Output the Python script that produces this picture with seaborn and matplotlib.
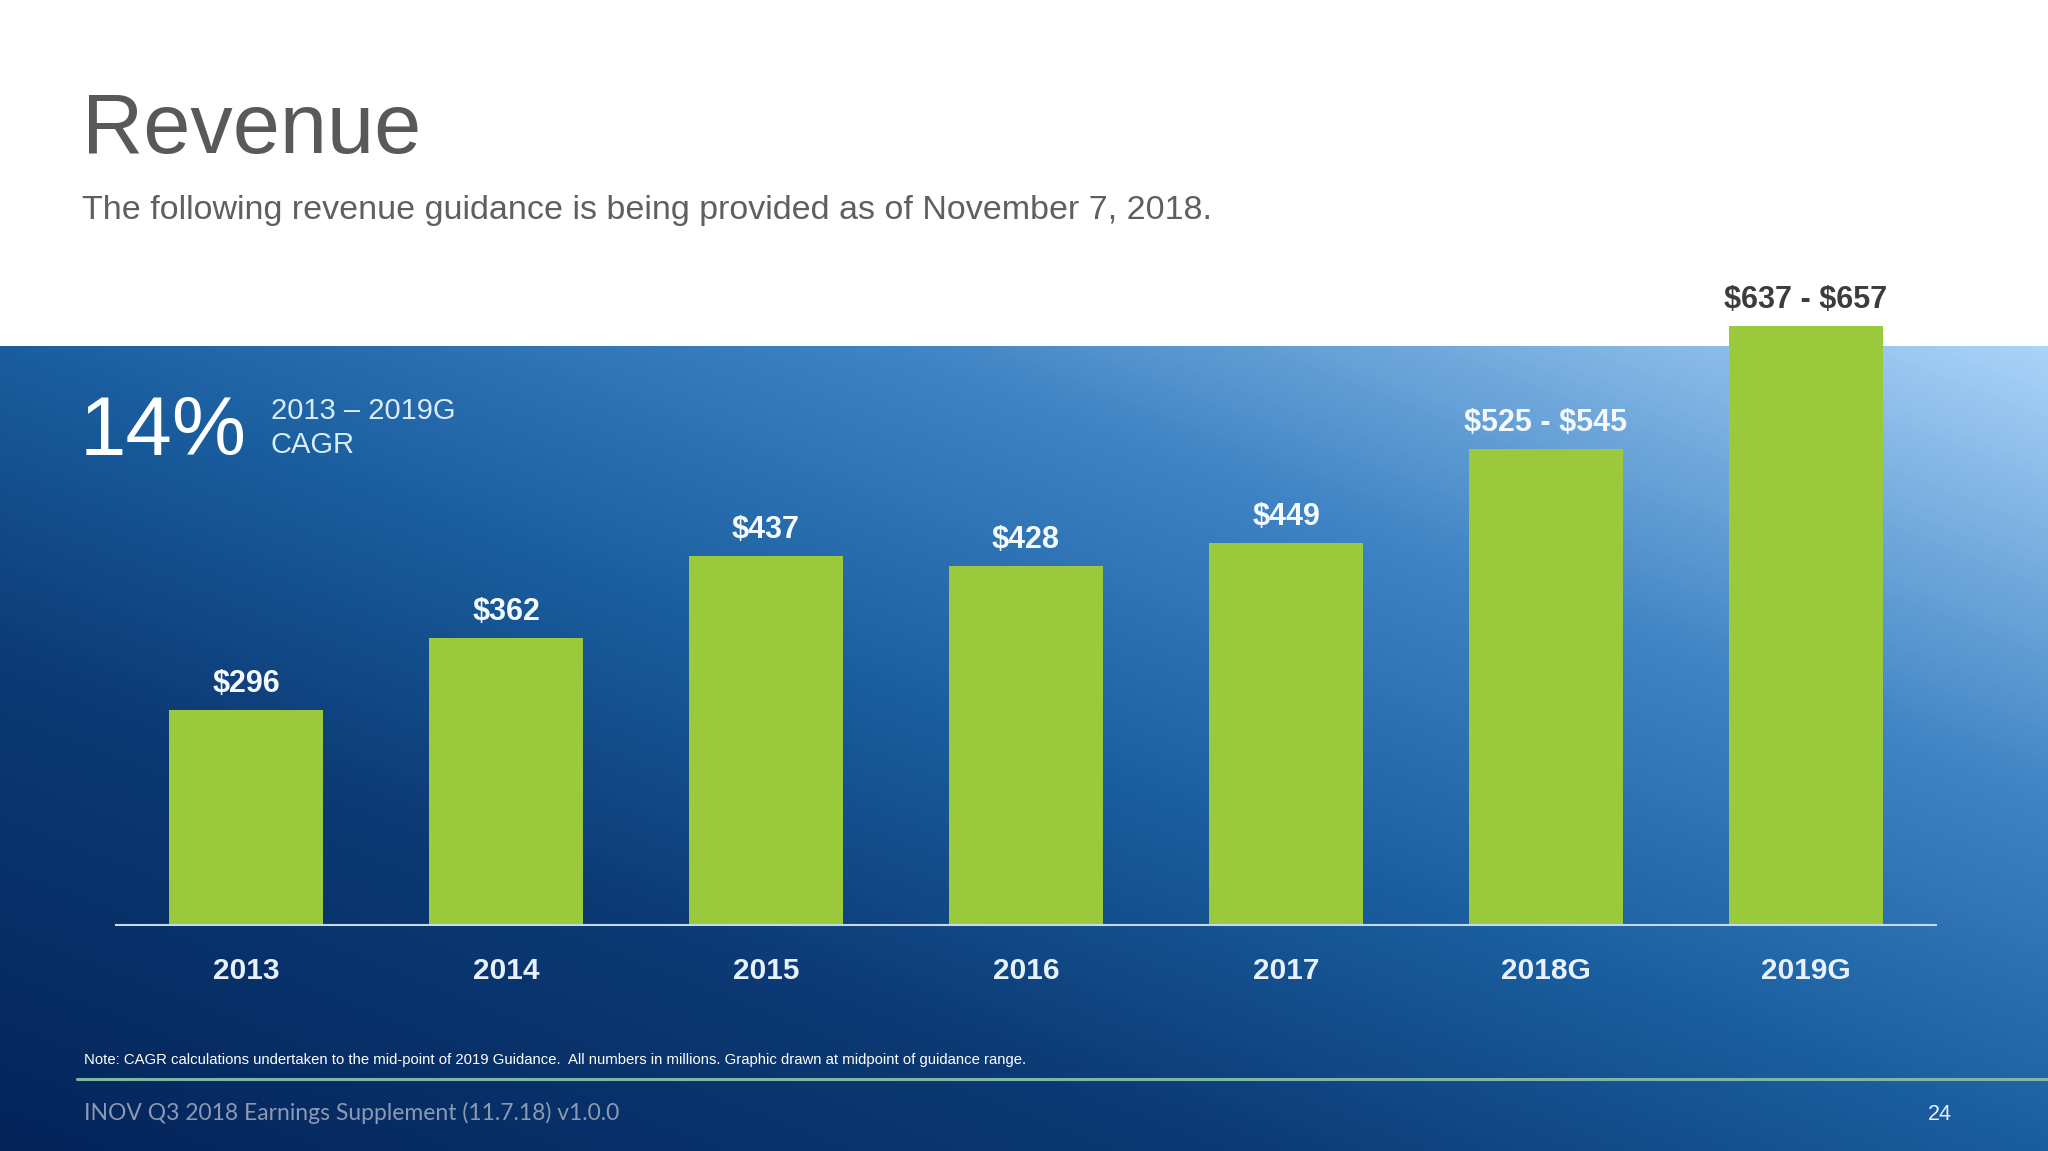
import numpy as np
import pandas as pd
import seaborn as sns
import matplotlib.pyplot as plt
from matplotlib.colors import LinearSegmentedColormap
from matplotlib.lines import Line2D

# data (millions of $)
years = ['2013', '2014', '2015', '2016', '2017', '2018G', '2019G']
revenue_low = [296, 362, 437, 428, 449, 525, 637]
revenue_high = [296, 362, 437, 428, 449, 545, 657]

df = pd.DataFrame({'year': years, 'low': revenue_low, 'high': revenue_high})
# bars drawn at the midpoint of the guidance range
df['mid'] = (df['low'] + df['high']) / 2
df['label'] = ['\\$%d' % l if l == h else '\\$%d - \\$%d' % (l, h) for l, h in zip(df['low'], df['high'])]

sns.set_theme(style='white')
plt.rcParams['font.family'] = ['Liberation Sans', 'DejaVu Sans']

W, H = 2048, 1151
fig = plt.figure(figsize=(W / 100, H / 100), dpi=100, facecolor='white')

# blue gradient panel
bg = fig.add_axes([0, 0, 1, 1])
bg.set_xlim(0, 1)
bg.set_ylim(0, 1)
bg.axis('off')
panel_top_px = 346
panel_top = (H - panel_top_px) / H
u = np.linspace(0, 1, 500)
v = np.linspace(0, 1, 250)
U, V = np.meshgrid(u, v)
T = (U + V) / 2
cmap = LinearSegmentedColormap.from_list(
    'panel', [(0, '#04245a'), (0.3, '#0c3a74'), (0.5, '#1a5e9f'), (0.72, '#3f84c4'), (1, '#aad3f8')])
bg.imshow(T, cmap=cmap, extent=[0, 1, 0, panel_top], origin='lower',
          aspect='auto', vmin=0, vmax=1, interpolation='bilinear')

# bar chart
px_per_unit = 1.095
ax = fig.add_axes([116 / W, (H - 925) / H, (1936 - 116) / W, 600 * px_per_unit / H])
sns.barplot(data=df, x='year', y='mid', color='#9aca3c', saturation=1, width=0.59,
            linewidth=0, ax=ax)
ax.set_xlim(-0.5, 6.5)
ax.set_ylim(100, 700)
ax.patch.set_alpha(0)
for s in ['left', 'top', 'right']:
    ax.spines[s].set_visible(False)
ax.spines['bottom'].set_color('#c8d9ea')
ax.spines['bottom'].set_linewidth(1.5)
ax.set_yticks([])
ax.set_xticks([])
ax.set_xlabel('')
ax.set_ylabel('')

for i, row in df.iterrows():
    # labels that sit on the white header area are drawn dark
    bar_top_px = 925 - (row['mid'] - 100) * px_per_unit
    lab_color = '#3c3c3c' if bar_top_px - 18 < panel_top_px else '#f4f9fd'
    ax.annotate(row['label'], xy=(i, row['mid']), xytext=(0, 13), textcoords='offset points',
                ha='center', va='baseline', fontsize=22, fontweight='bold',
                color=lab_color, annotation_clip=False)
    ax.annotate(row['year'], xy=(i, 100), xytext=(0, -39), textcoords='offset points',
                ha='center', va='baseline', fontsize=21.5, fontweight='bold',
                color='#e6f1fb', annotation_clip=False)

# header
fig.text(82 / W, (H - 153) / H, 'Revenue', fontsize=61, color='#595959', va='baseline')
fig.text(82 / W, (H - 219) / H, 'The following revenue guidance is being provided as of November 7, 2018.',
         fontsize=24.5, color='#5f5f5f', va='baseline')

# CAGR callout
fig.text(80 / W, (H - 455) / H, '14%', fontsize=60, color='white', va='baseline')
fig.text(271 / W, (H - 419) / H, '2013 \u2013 2019G', fontsize=21, color='#d8ecfb', va='baseline')
fig.text(271 / W, (H - 453) / H, 'CAGR', fontsize=21, color='#d8ecfb', va='baseline')

# footer
fig.text(84 / W, (H - 1064) / H,
         'Note: CAGR calculations undertaken to the mid-point of 2019 Guidance.  All numbers in millions. '
         'Graphic drawn at midpoint of guidance range.',
         fontsize=10.7, color='white', va='baseline')
fig.add_artist(Line2D([77 / W, 1], [(H - 1079) / H] * 2, color='#7fb7a3', lw=2.2))
fig.text(84 / W, (H - 1120) / H, 'INOV Q3 2018 Earnings Supplement (11.7.18) v1.0.0',
         fontsize=16.5, color='#8a9ab3', va='baseline', family=['Lato', 'DejaVu Sans'])
fig.text(1940 / W, (H - 1120) / H, '24', fontsize=15.5, color='#e8f2fb', va='baseline', ha='center')

fig.savefig('out.png', dpi=100)
